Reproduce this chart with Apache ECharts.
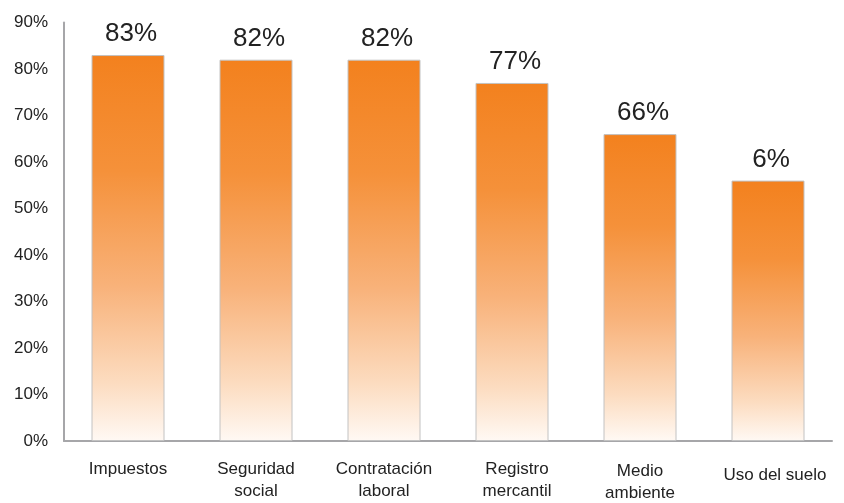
<!DOCTYPE html>
<html>
<head>
<meta charset="utf-8">
<script src="https://cdn.jsdelivr.net/npm/echarts@6/dist/echarts.min.js"></script>
<style>
html,body{margin:0;padding:0;background:#fff;}
#chart{width:844px;height:503px;}
</style>
</head>
<body>
<div id="chart"></div>
<script>
var categories = ['Impuestos', 'Seguridad\nsocial', 'Contratación\nlaboral', 'Registro\nmercantil', 'Medio\nambiente', 'Uso del suelo'];
var values = [83, 82, 82, 77, 66, 56];
var valueLabels = ['83%', '82%', '82%', '77%', '66%', '6%'];
var yTicks = [0, 10, 20, 30, 40, 50, 60, 70, 80, 90];

var chart = echarts.init(document.getElementById('chart'), null, {renderer: 'canvas'});
var font = 'Liberation Sans, Arial, sans-serif';
var labelPad = {'Registro\nmercantil': [0, 0, 0, 10], 'Medio\nambiente': [2, 0, 0, 0], 'Uso del suelo': [6, 0, 0, 14]};

chart.setOption({
  animation: false,
  backgroundColor: '#ffffff',
  grid: {left: 64, right: 12, top: 22.5, bottom: 62, containLabel: false, outerBoundsMode: 'none'},
  xAxis: {
    type: 'category',
    data: categories.map(function (c) {
      return labelPad[c] ? {value: c, textStyle: {padding: labelPad[c]}} : c;
    }),
    axisLine: {show: true, lineStyle: {color: '#a6a6a9', width: 2}},
    axisTick: {show: false},
    axisLabel: {
      interval: 0, margin: 17, color: '#222222', fontFamily: font, fontSize: 17, lineHeight: 22
    }
  },
  yAxis: {
    type: 'value',
    min: yTicks[0], max: yTicks[yTicks.length - 1], interval: 10,
    axisLine: {show: true, lineStyle: {color: '#a6a6a9', width: 2}},
    axisTick: {show: false},
    splitLine: {show: false},
    axisLabel: {
      margin: 16, color: '#222222', fontFamily: font, fontSize: 17,
      formatter: function (v) { return v + '%'; }
    }
  },
  series: [{
    type: 'bar',
    data: values,
    barWidth: 73,
    itemStyle: {
      borderColor: '#c2c2c2',
      borderWidth: 1,
      color: new echarts.graphic.LinearGradient(0, 0, 0, 1, [
        {offset: 0, color: '#f3811e'},
        {offset: 0.3, color: '#f5913a'},
        {offset: 0.6, color: '#f8b27a'},
        {offset: 0.85, color: '#fcdcc0'},
        {offset: 1, color: '#fff9f4'}
      ])
    },
    label: {
      show: true,
      position: 'top',
      distance: 8,
      offset: [3, 0],
      color: '#222222',
      fontFamily: font,
      fontSize: 26,
      formatter: function (p) { return valueLabels[p.dataIndex]; }
    }
  }]
});
</script>
</body>
</html>
